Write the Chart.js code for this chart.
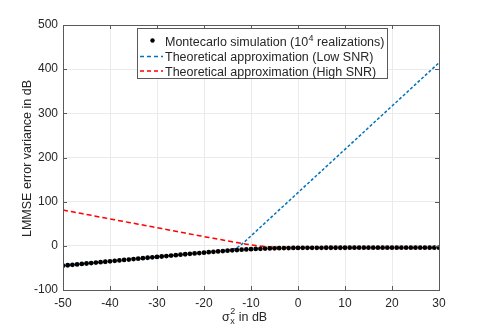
<!DOCTYPE html>
<html>
<head>
<meta charset="utf-8">
<script src="https://cdn.jsdelivr.net/npm/chart.js@4.4.1/dist/chart.umd.min.js"></script>
<style>
html,body{margin:0;padding:0;background:#fff;}
#c{display:block;}
</style>
</head>
<body>
<canvas id="c" width="485" height="336"></canvas>
<script>
// ---- data ----
const sigmaX = [-50,-49,-48,-47,-46,-45,-44,-43,-42,-41,-40,-39,-38,-37,-36,-35,-34,-33,-32,-31,
  -30,-29,-28,-27,-26,-25,-24,-23,-22,-21,-20,-19,-18,-17,-16,-15,-14,-13,-12,-11,
  -10,-9,-8,-7,-6,-5,-4,-3,-2,-1,0,1,2,3,4,5,6,7,8,9,10,11,12,13,14,15,16,17,18,19,
  20,21,22,23,24,25,26,27,28,29,30];
const monteCarlo = [-45,-44,-43,-42,-41,-40,-39,-38,-37,-36,-35,-34,-33,-32,-31,-30,-29,-28,-27,-26,
  -25.0,-24.1,-23.1,-22.1,-21.1,-20.1,-19.1,-18.2,-17.2,-16.3,
  -15.4,-14.4,-13.5,-12.7,-11.8,-11.0,-10.2,-9.5,-8.8,-8.2,
  -7.6,-7.1,-6.7,-6.3,-5.9,-5.6,-5.4,-5.1,-5.0,-4.8,
  -4.7,-4.6,-4.5,-4.5,-4.4,-4.4,-4.3,-4.3,-4.3,-4.3,
  -4.3,-4.2,-4.2,-4.2,-4.2,-4.2,-4.2,-4.2,-4.2,-4.2,
  -4.2,-4.2,-4.2,-4.2,-4.2,-4.2,-4.2,-4.2,-4.2,-4.2,-4.2];
const lowSNR = [-45,-44,-43,-42,-41,-40,-39,-38,-37,-36,-35,-34,-33,-32,-31,-30,-29,-28,-27,-26,
  -25,-24,-23,-22,-21,-20,-19,-18,-17,-16,-15,-14,-13,
  -12.0,-11.0,-9.9,-8.3,-4.4,3.3,12.7,22.5,
  32.3,42.1,51.9,61.7,71.5,81.3,91.1,100.9,110.7,120.5,
  130.3,140.1,149.9,159.7,169.5,179.3,189.1,198.9,208.7,218.5,
  228.3,238.1,247.9,257.7,267.5,277.3,287.1,296.9,306.7,316.5,
  326.3,336.1,345.9,355.7,365.5,375.3,385.1,394.9,404.7,414.5];
const highSNR = [81,79,77,75,73,71,69,67,65,63,61,59,57,55,53,51,49,47,45,43,
  41,39,37,35,33,31,29,27,25,23,21,19,17,15.1,
  13.1,11.1,9.2,7.3,5.5,3.8,2.2,0.7,-0.6,-1.6,-2.4,-3.0,-3.4,-3.7,-3.9,-4.0,-4.1,-4.1,-4.2,
  -4.2,-4.2,-4.2,-4.2,-4.2,-4.2,-4.2,-4.2,-4.2,-4.2,-4.2,-4.2,-4.2,-4.2,-4.2,-4.2,-4.2,
  -4.2,-4.2,-4.2,-4.2,-4.2,-4.2,-4.2,-4.2,-4.2,-4.2];
const xTicks = [-50,-40,-30,-20,-10,0,10,20,30];
const yTicks = [-100,0,100,200,300,400,500];
const seriesLabels = ['Montecarlo simulation (10', 'Theoretical approximation (Low SNR)', 'Theoretical approximation (High SNR)'];
const yTitle = 'LMMSE error variance in dB';

const FONT = '"Liberation Sans", Arial, Helvetica, sans-serif';
const AX = '#262626';
const pts = arr => sigmaX.map((x, i) => ({x: x, y: arr[i]}));

const matlabBox = {
  id: 'matlabBox',
  afterDraw(chart) {
    const ctx = chart.ctx, a = chart.chartArea;
    const xs = chart.scales.x, ys = chart.scales.y;
    ctx.save();
    // box
    ctx.strokeStyle = '#5a5a5a';
    ctx.lineWidth = 1;
    ctx.strokeRect(Math.round(a.left) + 0.5, Math.round(a.top) + 0.5, Math.round(a.right - a.left), Math.round(a.bottom - a.top));
    // inward ticks
    ctx.beginPath();
    const tl = 4;
    xTicks.forEach(v => {
      const px = Math.round(xs.getPixelForValue(v)) + 0.5;
      ctx.moveTo(px, a.bottom); ctx.lineTo(px, a.bottom - tl);
      ctx.moveTo(px, a.top); ctx.lineTo(px, a.top + tl);
    });
    yTicks.forEach(v => {
      const py = Math.round(ys.getPixelForValue(v)) + 0.5;
      ctx.moveTo(a.left, py); ctx.lineTo(a.left + tl, py);
      ctx.moveTo(a.right, py); ctx.lineTo(a.right - tl, py);
    });
    ctx.stroke();

    // y title
    ctx.fillStyle = AX;
    ctx.font = '12.5px ' + FONT;
    ctx.save();
    ctx.translate(31, (a.top + a.bottom) / 2 + 1);
    ctx.rotate(-Math.PI / 2);
    ctx.textAlign = 'center';
    ctx.textBaseline = 'alphabetic';
    ctx.fillText(yTitle, 0, 0);
    ctx.restore();

    // x title: sigma_x^2 in dB
    ctx.textAlign = 'left';
    ctx.textBaseline = 'alphabetic';
    const bx = 222, by = 320.5;
    ctx.font = '12.5px ' + FONT;
    ctx.fillText('σ', bx, by);
    const sw = ctx.measureText('σ').width;
    ctx.font = '9px ' + FONT;
    ctx.fillText('2', bx + sw + 0.5, by - 7);
    ctx.fillText('x', bx + sw + 0.5, by + 3);
    ctx.font = '12.5px ' + FONT;
    ctx.fillText(' in dB', bx + sw + 5.5, by);

    // legend
    const L = 137.5, T = 28.5, R = 387.5, B = 78.5;
    ctx.fillStyle = '#ffffff';
    ctx.fillRect(L, T, R - L, B - T);
    ctx.strokeStyle = '#5a5a5a';
    ctx.strokeRect(L, T, R - L, B - T);
    const tx = 165;
    const baselines = [46, 61, 75.5];
    // row 1: dot
    ctx.fillStyle = '#000';
    ctx.beginPath();
    ctx.arc(152.5, baselines[0] - 5.5, 2.2, 0, Math.PI * 2);
    ctx.fill();
    ctx.fillStyle = AX;
    ctx.font = '12.5px ' + FONT;
    ctx.fillText(seriesLabels[0], tx, baselines[0]);
    let w = ctx.measureText(seriesLabels[0]).width;
    ctx.font = '9px ' + FONT;
    ctx.fillText('4', tx + w + 0.5, baselines[0] - 5);
    const w4 = ctx.measureText('4').width;
    ctx.font = '12.5px ' + FONT;
    ctx.fillText(' realizations)', tx + w + w4 + 0.5, baselines[0]);
    // rows 2,3
    const cols = ['#0072BD', '#FF0000'];
    [1, 2].forEach(i => {
      const yy = baselines[i] - 4.5;
      ctx.strokeStyle = cols[i - 1];
      ctx.lineWidth = 1.5;
      ctx.setLineDash([4, 3]);
      ctx.beginPath();
      ctx.moveTo(140, yy); ctx.lineTo(163, yy);
      ctx.stroke();
      ctx.setLineDash([]);
      ctx.fillStyle = AX;
      ctx.font = '12.5px ' + FONT;
      ctx.fillText(seriesLabels[i], tx, baselines[i]);
    });
    ctx.restore();
  }
};

new Chart(document.getElementById('c'), {
  type: 'line',
  data: {
    datasets: [
      {
        label: 'mc', data: pts(monteCarlo), showLine: false,
        pointRadius: 2.4, pointBackgroundColor: '#000', pointBorderWidth: 0, borderColor: '#000'
      },
      {
        label: 'low', data: pts(lowSNR), borderColor: '#0072BD', borderWidth: 1.5,
        borderDash: [3, 2], pointRadius: 0, tension: 0, fill: false
      },
      {
        label: 'high', data: pts(highSNR), borderColor: '#FF0000', borderWidth: 1.5,
        borderDash: [5, 3], pointRadius: 0, tension: 0, fill: false
      }
    ]
  },
  options: {
    responsive: false,
    animation: false,
    devicePixelRatio: 1,
    layout: {padding: {top: 25, right: 46, left: 0, bottom: 0}},
    plugins: {legend: {display: false}, tooltip: {enabled: false}, title: {display: false}},
    scales: {
      x: {
        type: 'linear', min: -50, max: 30,
        afterBuildTicks: s => { s.ticks = xTicks.map(v => ({value: v})); },
        afterFit: s => { s.height = 46; },
        ticks: {color: AX, font: {family: FONT, size: 12}, padding: 6, maxRotation: 0},
        grid: {color: '#ebebeb', drawTicks: false, lineWidth: 1},
        border: {display: false}
      },
      y: {
        type: 'linear', min: -100, max: 500,
        afterBuildTicks: s => { s.ticks = yTicks.map(v => ({value: v})); },
        afterFit: s => { s.width = 63; },
        ticks: {color: AX, font: {family: FONT, size: 12}, padding: 5},
        grid: {color: '#ebebeb', drawTicks: false, lineWidth: 1},
        border: {display: false}
      }
    }
  },
  plugins: [matlabBox]
});
</script>
</body>
</html>
